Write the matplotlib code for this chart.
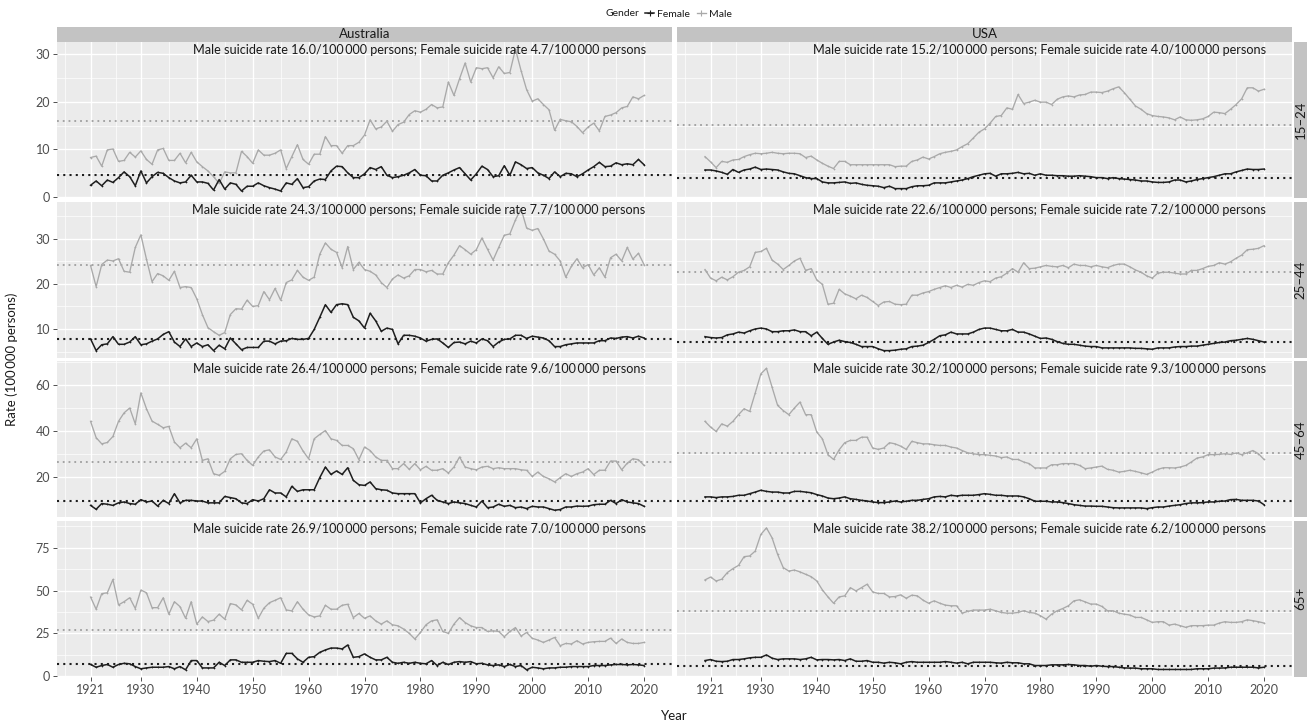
import numpy as np
import matplotlib
matplotlib.use('Agg')
import matplotlib.pyplot as plt
import matplotlib.transforms as mtransforms
from matplotlib.lines import Line2D
from matplotlib.ticker import FixedLocator

plt.rcParams['font.family'] = ['Lato', 'DejaVu Sans']

OUTPUT = 'out.png'

countries = ['Australia', 'USA']
age_groups = ['15\u201324', '25\u201344', '45\u201364', '65+']

aus_years = list(range(1921, 2021))
usa_years = list(range(1920, 2021))

# ---- Australia, male / female, by age group (1921-2020) ----
aus_m_1524 = [8.3, 8.6, 6.5, 9.9, 10.1, 7.5, 7.7, 9.4, 8.4, 9.7,
              7.9, 6.9, 9.9, 10.2, 7.7, 7.7, 9.2, 7.2, 9.4, 7.4,
              6.4, 5.5, 4.3, 2.9, 5.3, 5.1, 5.1, 9.6, 8.5, 7.1,
              9.9, 8.8, 8.8, 9.2, 9.9, 6.0, 8.5, 11.0, 7.9, 6.9,
              9.0, 9.0, 12.7, 10.8, 10.8, 9.2, 10.8, 10.8, 11.5, 13.0,
              16.2, 14.3, 14.7, 15.9, 13.8, 15.2, 15.7, 17.3, 18.1, 17.8,
              18.4, 19.4, 18.7, 18.9, 24.1, 21.3, 24.8, 28.1, 24.1, 27.1,
              26.9, 27.1, 25.0, 27.3, 25.9, 26.1, 31.0, 26.5, 22.5, 20.1,
              20.6, 19.4, 18.3, 14.0, 16.3, 16.0, 15.8, 14.8, 13.5, 14.7,
              15.5, 13.9, 16.9, 17.2, 17.7, 18.7, 19.0, 21.0, 20.6, 21.3]
aus_f_1524 = [2.5, 3.4, 2.4, 3.6, 3.1, 4.1, 5.3, 4.3, 2.4, 5.5,
              3.0, 4.3, 5.2, 5.0, 4.1, 3.4, 3.0, 3.2, 4.6, 3.2,
              3.2, 2.9, 1.5, 3.7, 1.7, 3.0, 2.7, 1.3, 2.3, 2.3,
              3.0, 2.4, 2.0, 1.7, 1.3, 3.0, 2.7, 3.9, 2.0, 2.2,
              3.4, 3.8, 3.7, 5.5, 6.5, 6.4, 5.1, 4.1, 4.1, 4.9,
              6.2, 5.8, 6.4, 4.6, 4.1, 4.3, 4.6, 5.1, 5.8, 4.6,
              4.5, 3.4, 3.4, 4.6, 5.1, 5.7, 6.2, 4.9, 3.6, 4.9,
              6.5, 5.8, 4.3, 4.5, 6.6, 4.6, 7.4, 6.8, 6.0, 6.2,
              5.1, 4.6, 3.9, 5.3, 4.3, 5.0, 4.9, 4.3, 4.9, 5.7,
              6.4, 7.3, 6.4, 6.5, 7.2, 6.8, 7.0, 6.8, 7.9, 6.8]
aus_m_2544 = [24.1, 19.4, 24.3, 25.3, 25.1, 25.6, 22.8, 22.6, 28.1, 30.9,
              25.5, 20.5, 22.3, 21.8, 20.8, 22.8, 19.2, 19.4, 19.2, 16.7,
              13.2, 10.3, 9.4, 8.6, 9.2, 13.2, 14.5, 14.4, 16.4, 15.0,
              15.2, 18.3, 16.5, 19.0, 16.4, 20.3, 20.9, 23.0, 21.5, 20.8,
              21.5, 26.6, 29.1, 27.7, 27.0, 23.6, 28.3, 23.2, 24.8, 23.2,
              22.8, 22.0, 20.3, 19.2, 21.1, 22.0, 21.3, 21.8, 23.2, 23.2,
              22.7, 23.0, 22.2, 22.2, 24.7, 26.4, 28.5, 27.6, 26.6, 27.6,
              30.2, 27.7, 25.3, 28.1, 30.8, 31.1, 34.2, 36.7, 32.4, 31.9,
              32.3, 30.0, 27.3, 26.6, 25.1, 21.5, 23.9, 25.6, 23.6, 24.3,
              22.0, 23.6, 21.5, 25.8, 26.6, 25.1, 28.1, 25.5, 26.8, 24.3]
aus_f_2544 = [7.8, 5.2, 6.5, 6.7, 8.3, 6.6, 6.6, 7.1, 8.3, 6.5,
              6.7, 7.3, 7.8, 8.8, 9.4, 7.1, 6.1, 7.8, 6.1, 6.9,
              6.1, 6.5, 5.2, 6.4, 5.6, 8.0, 6.7, 5.4, 5.9, 5.9,
              5.9, 7.3, 7.3, 6.7, 7.3, 7.4, 7.9, 7.7, 7.7, 7.9,
              9.9, 12.6, 15.4, 13.7, 15.4, 15.6, 15.4, 12.6, 11.8, 10.2,
              13.5, 11.8, 9.5, 10.2, 9.9, 6.7, 8.6, 8.6, 8.4, 8.0,
              7.3, 7.7, 7.8, 6.9, 5.9, 7.0, 7.1, 6.7, 7.3, 6.9,
              7.8, 7.4, 6.1, 7.1, 7.7, 7.8, 8.6, 8.6, 7.9, 8.4,
              8.2, 8.0, 7.4, 6.1, 6.1, 6.5, 6.7, 6.9, 6.9, 6.9,
              6.9, 7.4, 7.4, 8.0, 7.9, 8.2, 8.3, 8.0, 8.4, 8.0]
aus_m_4564 = [44.1, 37.0, 34.3, 34.9, 37.5, 44.1, 47.8, 49.9, 43.0, 56.5,
              49.6, 44.2, 42.8, 41.3, 41.9, 35.1, 32.6, 34.6, 32.6, 36.5,
              27.1, 27.8, 21.3, 20.6, 22.3, 27.8, 29.7, 30.0, 27.1, 24.9,
              28.6, 31.2, 31.7, 28.6, 27.5, 30.7, 36.5, 35.4, 31.2, 27.8,
              36.5, 38.4, 40.1, 36.5, 35.8, 33.6, 33.6, 32.2, 27.4, 32.9,
              31.4, 28.6, 27.1, 27.1, 23.5, 23.5, 25.7, 23.2, 25.7, 23.0,
              24.5, 22.8, 22.8, 23.5, 21.6, 24.2, 28.6, 24.2, 23.5, 23.0,
              24.2, 24.5, 23.5, 23.9, 23.5, 23.5, 23.5, 23.0, 22.8, 20.1,
              22.0, 20.1, 19.1, 17.7, 19.6, 21.3, 20.1, 21.3, 22.0, 23.5,
              20.9, 22.8, 22.8, 26.8, 26.8, 23.0, 25.9, 27.8, 27.4, 24.9]
aus_f_4564 = [7.5, 5.8, 8.3, 8.0, 7.5, 8.6, 9.0, 8.3, 8.0, 10.0,
              9.0, 9.4, 7.2, 9.7, 8.3, 12.6, 8.6, 9.7, 9.7, 9.4,
              9.4, 8.6, 8.6, 8.6, 11.4, 10.9, 10.4, 8.6, 8.3, 10.0,
              9.4, 10.4, 14.3, 12.9, 12.9, 11.2, 15.8, 13.6, 14.3, 14.3,
              14.3, 19.6, 24.2, 21.0, 22.5, 21.0, 23.9, 18.4, 16.5, 16.2,
              17.7, 14.8, 14.3, 14.1, 12.9, 12.6, 12.6, 12.6, 12.6, 8.6,
              10.4, 11.9, 9.7, 9.0, 8.3, 9.0, 8.6, 8.3, 7.5, 6.8,
              9.4, 6.5, 6.8, 8.0, 7.1, 7.5, 6.5, 6.8, 6.1, 7.1,
              6.8, 6.8, 6.1, 5.4, 5.7, 6.8, 6.8, 7.2, 7.1, 7.2,
              7.8, 8.0, 8.0, 9.7, 8.3, 10.0, 9.0, 8.6, 8.3, 7.1]
aus_m_65 = [46.2, 39.1, 48.2, 48.7, 56.5, 41.6, 43.5, 45.8, 39.5, 50.3,
            48.7, 40.0, 40.0, 45.8, 36.2, 43.5, 40.6, 33.8, 43.5, 30.4,
            34.6, 31.9, 32.7, 36.2, 33.3, 42.4, 41.6, 38.7, 44.3, 42.0,
            33.8, 39.7, 42.9, 44.3, 45.8, 38.7, 38.1, 43.5, 39.1, 35.8,
            34.6, 35.2, 41.4, 39.1, 39.1, 41.4, 42.0, 34.2, 36.6, 33.8,
            35.2, 32.3, 30.4, 32.3, 30.0, 29.4, 27.5, 25.0, 21.7, 25.5,
            30.0, 32.3, 32.9, 26.1, 25.0, 30.4, 34.2, 31.3, 29.4, 28.4,
            28.4, 26.1, 26.5, 26.1, 23.0, 26.1, 28.4, 23.4, 25.5, 22.1,
            21.1, 19.7, 21.1, 22.6, 17.8, 19.1, 18.8, 20.7, 18.8, 19.7,
            20.1, 20.3, 20.3, 22.2, 19.1, 21.7, 19.7, 19.1, 19.1, 19.7]
aus_f_65 = [6.8, 5.2, 6.2, 6.8, 5.2, 6.8, 7.5, 7.2, 5.6, 4.3,
            4.8, 5.2, 5.2, 5.2, 5.6, 4.3, 5.6, 3.7, 9.1, 9.1,
            4.8, 4.8, 4.8, 8.1, 6.2, 9.5, 9.5, 8.1, 8.1, 8.1,
            9.1, 8.7, 8.5, 9.1, 7.5, 13.3, 13.3, 10.1, 8.1, 11.0,
            11.4, 13.9, 15.3, 16.4, 16.4, 15.9, 18.2, 11.0, 11.4, 13.0,
            11.0, 9.5, 9.5, 11.0, 8.1, 7.5, 8.1, 7.5, 8.1, 7.5,
            7.2, 9.1, 6.2, 8.1, 6.8, 8.1, 8.5, 8.1, 8.5, 7.2,
            7.5, 6.6, 6.2, 6.6, 5.6, 6.8, 5.6, 6.2, 3.7, 5.2,
            4.8, 4.3, 4.8, 4.8, 5.2, 5.2, 5.6, 5.6, 5.6, 5.6,
            6.2, 6.2, 6.2, 6.6, 6.8, 6.8, 6.6, 6.8, 6.6, 6.2]

# ---- USA, male / female, by age group (1920-2020) ----
usa_m_1524 = [8.5, 7.4, 6.2, 7.5, 7.3, 7.8, 7.9, 8.5, 8.9, 9.2,
              9.1, 9.2, 9.4, 9.2, 9.1, 9.2, 9.2, 9.1, 8.3, 8.6,
              7.8, 7.1, 6.5, 6.0, 7.5, 7.5, 6.8, 6.8, 6.8, 6.8,
              6.8, 6.8, 6.8, 6.8, 6.4, 6.5, 6.5, 7.5, 7.8, 8.4,
              8.0, 8.5, 9.1, 9.4, 9.6, 9.9, 10.6, 11.2, 12.4, 13.6,
              14.3, 15.5, 16.9, 17.1, 18.7, 18.4, 21.5, 19.6, 19.9, 20.3,
              19.9, 19.9, 19.4, 20.5, 21.0, 21.2, 21.0, 21.4, 21.5, 22.0,
              22.0, 21.9, 22.2, 22.7, 23.1, 21.9, 20.5, 19.1, 18.4, 17.5,
              17.1, 16.9, 16.8, 16.6, 16.2, 16.8, 16.2, 16.1, 16.2, 16.4,
              16.9, 17.8, 17.7, 17.5, 18.4, 19.4, 20.6, 22.9, 22.9, 22.2,
              22.6]
usa_f_1524 = [5.7, 5.7, 5.5, 5.2, 4.8, 5.8, 5.2, 5.7, 5.9, 6.3,
              5.8, 5.9, 5.8, 5.7, 5.3, 5.0, 4.9, 4.5, 4.1, 3.9,
              3.9, 3.2, 3.0, 3.0, 3.1, 3.2, 2.9, 3.0, 2.7, 2.5,
              2.4, 2.3, 2.0, 2.3, 1.8, 1.8, 1.8, 2.2, 2.4, 2.4,
              2.5, 3.0, 3.0, 3.0, 3.2, 3.4, 3.6, 3.9, 4.3, 4.6,
              4.9, 5.0, 4.4, 4.9, 4.9, 5.0, 5.2, 4.9, 5.0, 4.6,
              4.9, 4.6, 4.6, 4.5, 4.5, 4.4, 4.4, 4.5, 4.4, 4.3,
              4.1, 4.1, 3.9, 4.1, 3.9, 3.8, 3.7, 3.6, 3.4, 3.4,
              3.2, 3.1, 3.1, 3.2, 3.6, 3.6, 3.2, 3.4, 3.7, 3.9,
              4.1, 4.3, 4.6, 4.9, 4.9, 5.3, 5.6, 5.9, 5.8, 5.8,
              5.9]
usa_m_2544 = [23.2, 21.3, 20.7, 21.5, 20.9, 21.6, 22.6, 23.0, 23.8, 27.0,
              27.2, 27.9, 25.3, 24.4, 23.2, 24.1, 25.1, 25.7, 23.0, 23.4,
              20.9, 19.9, 15.5, 15.7, 18.8, 17.8, 17.3, 16.7, 17.5, 17.0,
              16.1, 15.2, 16.0, 16.1, 15.5, 15.4, 15.5, 17.5, 17.5, 18.0,
              18.3, 18.8, 19.2, 19.6, 19.2, 19.7, 19.3, 19.9, 19.7, 20.3,
              20.7, 20.5, 21.3, 21.6, 22.4, 23.4, 22.6, 24.7, 23.4, 23.5,
              23.8, 24.1, 23.9, 23.8, 24.1, 23.6, 24.4, 24.1, 24.1, 23.8,
              24.1, 23.8, 23.6, 24.1, 24.4, 24.4, 23.8, 23.1, 22.6, 21.8,
              21.3, 22.4, 22.6, 22.6, 22.4, 22.2, 22.2, 23.0, 23.0, 23.4,
              23.9, 24.1, 24.7, 24.4, 24.9, 25.7, 26.4, 27.6, 27.7, 27.9,
              28.5]
usa_f_2544 = [8.3, 8.1, 8.0, 8.1, 8.7, 8.9, 9.3, 9.1, 9.6, 10.0,
              10.2, 10.0, 9.4, 9.4, 9.6, 9.6, 9.8, 9.4, 9.4, 8.5,
              9.3, 7.9, 6.6, 7.1, 7.5, 7.2, 7.0, 6.6, 6.1, 6.1,
              6.1, 5.6, 5.2, 5.2, 5.3, 5.5, 5.6, 6.1, 6.2, 6.4,
              7.0, 7.7, 8.5, 8.7, 9.3, 8.9, 8.9, 8.9, 9.3, 9.9,
              10.2, 10.2, 9.9, 9.6, 9.6, 9.9, 9.3, 9.3, 8.9, 8.4,
              7.9, 8.0, 7.7, 7.2, 6.8, 6.6, 6.6, 6.4, 6.2, 6.1,
              6.1, 5.8, 5.8, 5.8, 5.8, 5.8, 5.8, 5.7, 5.7, 5.6,
              5.5, 5.8, 5.8, 5.8, 6.0, 6.1, 6.1, 6.2, 6.2, 6.4,
              6.6, 6.8, 7.0, 7.1, 7.4, 7.5, 7.7, 7.9, 7.7, 7.4,
              7.1]
usa_m_4564 = [44.1, 41.6, 39.7, 43.0, 42.0, 44.1, 47.0, 49.6, 48.4, 56.5,
              64.8, 67.2, 59.0, 51.0, 48.8, 47.0, 49.9, 52.5, 47.0, 47.0,
              39.4, 36.5, 29.6, 27.5, 31.7, 34.8, 35.8, 35.8, 37.2, 37.2,
              32.5, 31.9, 32.5, 34.8, 34.3, 33.3, 31.9, 35.4, 34.8, 34.3,
              34.3, 33.9, 33.6, 33.6, 32.9, 32.5, 31.4, 30.4, 30.0, 29.6,
              29.6, 29.3, 29.0, 28.3, 28.6, 27.5, 27.5, 26.4, 25.7, 23.8,
              23.8, 23.8, 25.2, 25.2, 25.7, 25.7, 25.7, 24.9, 23.5, 23.8,
              24.2, 24.6, 23.2, 22.8, 22.0, 22.3, 22.8, 22.3, 21.7, 21.0,
              22.0, 23.2, 23.9, 23.9, 23.8, 24.2, 24.9, 26.4, 28.1, 28.6,
              29.6, 29.6, 29.7, 30.0, 29.7, 30.3, 29.6, 30.4, 31.4, 30.0,
              27.5]
usa_f_4564 = [11.2, 11.2, 10.9, 11.2, 11.2, 11.4, 11.9, 11.9, 12.6, 13.3,
              14.1, 13.6, 13.3, 13.3, 12.9, 12.9, 13.6, 13.6, 13.3, 13.0,
              12.2, 11.6, 10.7, 10.4, 10.7, 11.2, 10.4, 10.1, 9.7, 9.4,
              9.0, 8.7, 8.7, 9.0, 9.4, 9.0, 9.3, 9.7, 9.7, 10.1,
              10.4, 11.2, 11.4, 11.2, 11.9, 11.6, 11.9, 11.9, 11.9, 12.2,
              12.6, 12.3, 11.9, 11.9, 11.6, 11.6, 11.6, 11.2, 10.4, 9.3,
              9.3, 9.3, 9.0, 9.0, 8.7, 8.3, 7.8, 7.5, 7.2, 7.2,
              7.1, 7.1, 6.8, 6.5, 6.4, 6.4, 6.4, 6.4, 6.4, 6.1,
              6.5, 6.8, 6.8, 7.2, 7.5, 7.8, 8.3, 8.6, 8.6, 8.7,
              9.0, 9.0, 9.3, 9.4, 10.0, 10.1, 9.7, 9.7, 9.7, 9.4,
              7.8]
usa_m_65 = [56.2, 57.9, 55.6, 56.6, 60.5, 62.8, 64.7, 69.8, 70.2, 73.1,
            82.8, 86.6, 80.8, 71.1, 63.4, 61.4, 62.0, 60.9, 59.5, 58.1,
            55.6, 50.4, 46.3, 42.6, 46.3, 46.9, 51.7, 49.8, 51.7, 53.7,
            49.2, 48.3, 48.3, 46.3, 46.5, 47.5, 45.5, 47.3, 46.9, 44.4,
            42.6, 44.0, 42.6, 41.5, 41.1, 41.1, 36.8, 37.8, 38.6, 38.6,
            38.6, 39.1, 38.2, 37.2, 36.8, 36.8, 37.2, 38.2, 37.2, 36.8,
            35.3, 33.3, 36.2, 38.2, 39.5, 41.1, 44.0, 44.6, 43.4, 42.1,
            42.1, 40.7, 38.2, 38.2, 36.8, 36.2, 35.7, 34.3, 34.3, 32.9,
            31.4, 31.8, 31.8, 29.8, 30.4, 29.5, 28.5, 29.5, 29.5, 29.5,
            29.8, 29.8, 31.0, 31.8, 31.4, 31.4, 31.8, 32.9, 32.4, 31.8,
            31.0]
usa_f_65 = [9.1, 9.7, 8.7, 8.5, 8.7, 9.7, 9.7, 10.1, 10.7, 11.0,
            11.0, 12.4, 10.5, 9.7, 10.1, 10.1, 10.1, 9.7, 10.1, 11.0,
            9.5, 9.7, 9.7, 9.5, 9.7, 9.1, 10.1, 8.7, 8.7, 9.1,
            8.1, 8.1, 7.6, 8.1, 7.8, 7.2, 8.1, 8.5, 8.1, 8.1,
            8.1, 8.1, 8.1, 8.5, 8.1, 7.6, 8.1, 7.2, 8.1, 8.1,
            8.1, 8.1, 7.8, 7.6, 8.1, 7.8, 7.8, 7.2, 7.2, 6.2,
            6.2, 6.2, 6.6, 6.6, 6.6, 6.8, 6.6, 6.2, 6.2, 5.8,
            6.2, 5.8, 5.6, 5.6, 5.2, 4.8, 4.7, 4.7, 4.3, 4.3,
            4.3, 3.9, 3.9, 3.9, 3.9, 3.9, 3.9, 3.9, 4.3, 4.3,
            4.3, 4.7, 4.7, 4.8, 5.2, 5.2, 5.2, 5.2, 5.2, 4.8,
            5.2]

# mean rates shown as dotted reference lines and in the panel captions
aus_male_mean = [16.0, 24.3, 26.4, 26.9]
aus_female_mean = [4.7, 7.7, 9.6, 7.0]
usa_male_mean = [15.2, 22.6, 30.2, 38.2]
usa_female_mean = [4.0, 7.2, 9.3, 6.2]

x_breaks = [1921, 1930, 1940, 1950, 1960, 1970, 1980, 1990, 2000, 2010, 2020]
y_breaks = [[0, 10, 20, 30], [10, 20, 30], [20, 40, 60], [0, 25, 50, 75]]

panels = {
    'Australia': dict(years=aus_years,
                      male=[aus_m_1524, aus_m_2544, aus_m_4564, aus_m_65],
                      female=[aus_f_1524, aus_f_2544, aus_f_4564, aus_f_65],
                      male_mean=aus_male_mean, female_mean=aus_female_mean),
    'USA': dict(years=usa_years,
                male=[usa_m_1524, usa_m_2544, usa_m_4564, usa_m_65],
                female=[usa_f_1524, usa_f_2544, usa_f_4564, usa_f_65],
                male_mean=usa_male_mean, female_mean=usa_female_mean),
}

PANEL_BG = '#EBEBEB'
STRIP_BG = '#C3C3C3'
MALE_C = '#A9A9A9'
FEMALE_C = '#1E1E1E'
TXT = '#1A1A1A'
TICK_TXT = '#4D4D4D'

W, H = 1307, 724
fig = plt.figure(figsize=(W / 100, H / 100), dpi=100)
fig.patch.set_facecolor('white')


def box(x0, y0, x1, y1):
    return [x0 / W, 1 - y1 / H, (x1 - x0) / W, (y1 - y0) / H]


col_x = [(57, 672), (677, 1292)]
row_top, row_h, row_gap = 42, 156.1, 3.5


def minor_of(breaks, lo, hi):
    mids = [(a + b) / 2 for a, b in zip(breaks[:-1], breaks[1:])]
    step0 = breaks[1] - breaks[0]
    step1 = breaks[-1] - breaks[-2]
    mids = [breaks[0] - step0 / 2] + mids + [breaks[-1] + step1 / 2]
    return [m for m in mids if lo <= m <= hi]


for r in range(4):
    y0 = row_top + r * (row_h + row_gap)
    y1 = y0 + row_h
    allv = []
    for c in countries:
        allv += panels[c]['male'][r] + panels[c]['female'][r]
    lo, hi = min(allv), max(allv)
    pad = 0.05 * (hi - lo)
    ylim = (lo - pad, hi + pad)

    for ci, c in enumerate(countries):
        p = panels[c]
        ax = fig.add_axes(box(col_x[ci][0], y0, col_x[ci][1], y1))
        ax.set_facecolor(PANEL_BG)
        for s in ax.spines.values():
            s.set_visible(False)
        ax.set_xlim(1915, 2025)
        ax.set_ylim(*ylim)
        ax.xaxis.set_major_locator(FixedLocator(x_breaks))
        ax.xaxis.set_minor_locator(FixedLocator(minor_of(x_breaks, 1915, 2025)))
        ax.yaxis.set_major_locator(FixedLocator(y_breaks[r]))
        ax.yaxis.set_minor_locator(FixedLocator(minor_of(y_breaks[r], *ylim)))
        ax.grid(True, which='major', color='white', lw=1.0)
        ax.grid(True, which='minor', color='white', lw=0.5)
        ax.set_axisbelow(True)
        ax.tick_params(which='minor', length=0)
        ax.tick_params(which='major', length=2.8, width=0.6, color='#333333',
                       labelsize=9, labelcolor=TICK_TXT, pad=2)
        if ci != 0:
            ax.tick_params(axis='y', which='major', length=0, labelleft=False)
        if r != 3:
            ax.tick_params(axis='x', which='major', length=0, labelbottom=False)

        ax.axhline(p['male_mean'][r], color='#9E9E9E', lw=1.3, ls=(0, (1, 2.2)), zorder=2)
        ax.axhline(p['female_mean'][r], color=FEMALE_C, lw=1.5, ls=(0, (1, 2.0)), zorder=2)
        ax.plot(p['years'], p['male'][r], color=MALE_C, lw=0.95, marker='+', ms=1.8,
                mew=0.5, zorder=3)
        ax.plot(p['years'], p['female'][r], color=FEMALE_C, lw=1.1, marker='+', ms=1.8,
                mew=0.5, zorder=4)

        cap = (f"Male suicide rate {p['male_mean'][r]:.1f}/100\u2009000 persons; "
               f"Female suicide rate {p['female_mean'][r]:.1f}/100\u2009000 persons")
        tr = mtransforms.blended_transform_factory(ax.transData, ax.transAxes)
        tr = mtransforms.offset_copy(tr, fig=fig, x=0, y=-2, units='dots')
        ax.text(2020.3, 1.0, cap, transform=tr, ha='right', va='top', fontsize=9.1,
                color=TXT, zorder=5)

        if r == 0:
            sax = fig.add_axes(box(col_x[ci][0], 27, col_x[ci][1], row_top))
            sax.set_facecolor(STRIP_BG)
            sax.set_xticks([]); sax.set_yticks([])
            for s in sax.spines.values():
                s.set_visible(False)
            sax.text(0.5, 0.5, c, ha='center', va='center', fontsize=9.5, color=TXT,
                     transform=sax.transAxes)

    rax = fig.add_axes(box(1294, y0, 1310, y1))
    rax.set_facecolor(STRIP_BG)
    rax.set_xticks([]); rax.set_yticks([])
    for s in rax.spines.values():
        s.set_visible(False)
    rax.text(0.42, 0.5, age_groups[r], ha='center', va='center', rotation=90,
             fontsize=9.5, color=TXT, transform=rax.transAxes)

fig.text(12 / W, 1 - (row_top + 2 * row_h + 1.5 * row_gap) / H, 'Rate (100\u2009000 persons)',
         rotation=90, ha='center', va='center', fontsize=9.5, color=TXT)
fig.text(674 / W, 1 - 716 / H, 'Year', ha='center', va='center', fontsize=9.5, color=TXT)

# legend on top
fig.text(639 / W, 1 - 14 / H, 'Gender', ha='right', va='center', fontsize=7.5, color=TXT)
handles = [Line2D([], [], color=FEMALE_C, lw=1.1, marker='+', ms=4, mew=0.8),
           Line2D([], [], color=MALE_C, lw=0.95, marker='+', ms=4, mew=0.8)]
fig.legend(handles, ['Female', 'Male'], loc='center left',
           bbox_to_anchor=(645 / W, 1 - 14 / H), ncol=2, frameon=False,
           fontsize=7.5, handlelength=0.9, handletextpad=0.3, columnspacing=0.6,
           borderpad=0, borderaxespad=0, labelcolor=TXT)

plt.savefig(OUTPUT, dpi=100, facecolor='white')
plt.close()
